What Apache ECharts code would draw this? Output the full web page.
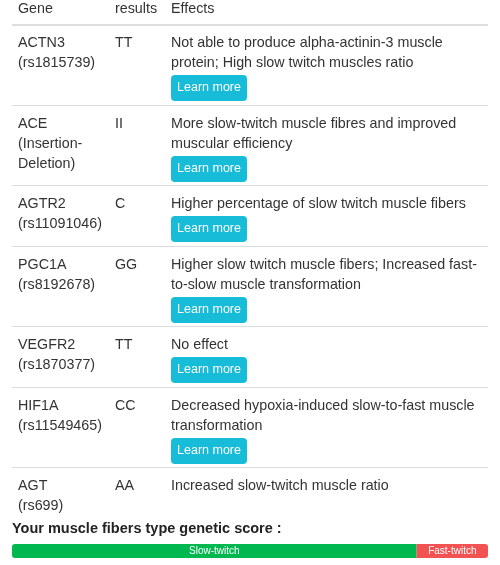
<!DOCTYPE html>
<html><head><meta charset="utf-8">
<script src="https://cdn.jsdelivr.net/npm/echarts@6/dist/echarts.min.js"></script>
<style>html,body{margin:0;padding:0;background:#fff}#c{width:500px;height:565px}</style>
</head><body><div id="c"></div>
<script>
const headers = ["Gene", "results", "Effects"];
const genes = [["ACTN3","(rs1815739)"],["ACE","(Insertion-","Deletion)"],["AGTR2","(rs11091046)"],["PGC1A","(rs8192678)"],["VEGFR2","(rs1870377)"],["HIF1A","(rs11549465)"],["AGT","(rs699)"]];
const results = ["TT","II","C","GG","TT","CC","AA"];
const effects = [
 ["Not able to produce alpha-actinin-3 muscle","protein; High slow twitch muscles ratio"],
 ["More slow-twitch muscle fibres and improved","muscular efficiency"],
 ["Higher percentage of slow twitch muscle fibers"],
 ["Higher slow twitch muscle fibers; Increased fast-","to-slow muscle transformation"],
 ["No effect"],
 ["Decreased hypoxia-induced slow-to-fast muscle","transformation"],
 ["Increased slow-twitch muscle ratio"]];
const hasButton = [true,true,true,true,true,true,false];
const scoreTitle = "Your muscle fibers type genetic score :";
const scoreNames = ["Slow-twitch","Fast-twitch"];
const scoreValues = [85, 15];

const F = 'Liberation Sans, Arial, sans-serif';
const g = [];
const txt = (x,y,s,extra)=>g.push({type:'text',x,y,style:Object.assign({text:s,fill:'#333',font:'14.3px '+F,textVerticalAlign:'middle'},extra||{})});
const colX=[18,115,171];
headers.forEach((h,i)=>txt(colX[i],9,h));
let y=25;
g.push({type:'rect',shape:{x:12,y:y-1,width:476,height:2},style:{fill:'#ddd'}});
genes.forEach((gn,r)=>{
  gn.forEach((s,k)=>txt(colX[0],y+18+20*k,s));
  txt(colX[1],y+18,results[r]);
  effects[r].forEach((s,k)=>txt(colX[2],y+18+20*k,s));
  const eh=effects[r].length*20+(hasButton[r]?30:0);
  if(hasButton[r]){
    const by=y+8+effects[r].length*20+2;
    g.push({type:'rect',shape:{x:171,y:by,width:76,height:26,r:4},style:{fill:'#17bcd9'}});
    g.push({type:'text',x:209,y:by+13,style:{text:'Learn more',fill:'#fff',font:'12.5px '+F,textAlign:'center',textVerticalAlign:'middle'}});
  }
  const h=Math.max(gn.length*20,eh)+10;
  y+=h+(r%2===0?1:0);
  if(r<genes.length-1) g.push({type:'rect',shape:{x:12,y:y-1,width:476,height:1},style:{fill:'#ddd'}});
});
g.push({type:'text',x:12,y:529,style:{text:scoreTitle,fill:'#222',font:'bold 14.5px '+F,textVerticalAlign:'middle'}});

const colors=['#00b84f','#f25252'];
const chart=echarts.init(document.getElementById('c'));
chart.setOption({
  animation:false,
  graphic:g,
  grid:{left:12,right:12,top:544,height:14},
  xAxis:{type:'value',max:100,show:false},
  yAxis:{type:'category',data:['score'],show:false},
  series:scoreNames.map((n,i)=>({type:'bar',name:n,stack:'s',barWidth:14,data:[scoreValues[i]],
    itemStyle:{color:colors[i],borderRadius:i===0?[3,0,0,3]:[0,3,3,0]},
    label:{show:true,position:'inside',formatter:n,color:'#fff',fontSize:10,fontFamily:F}}))
});
</script></body></html>
